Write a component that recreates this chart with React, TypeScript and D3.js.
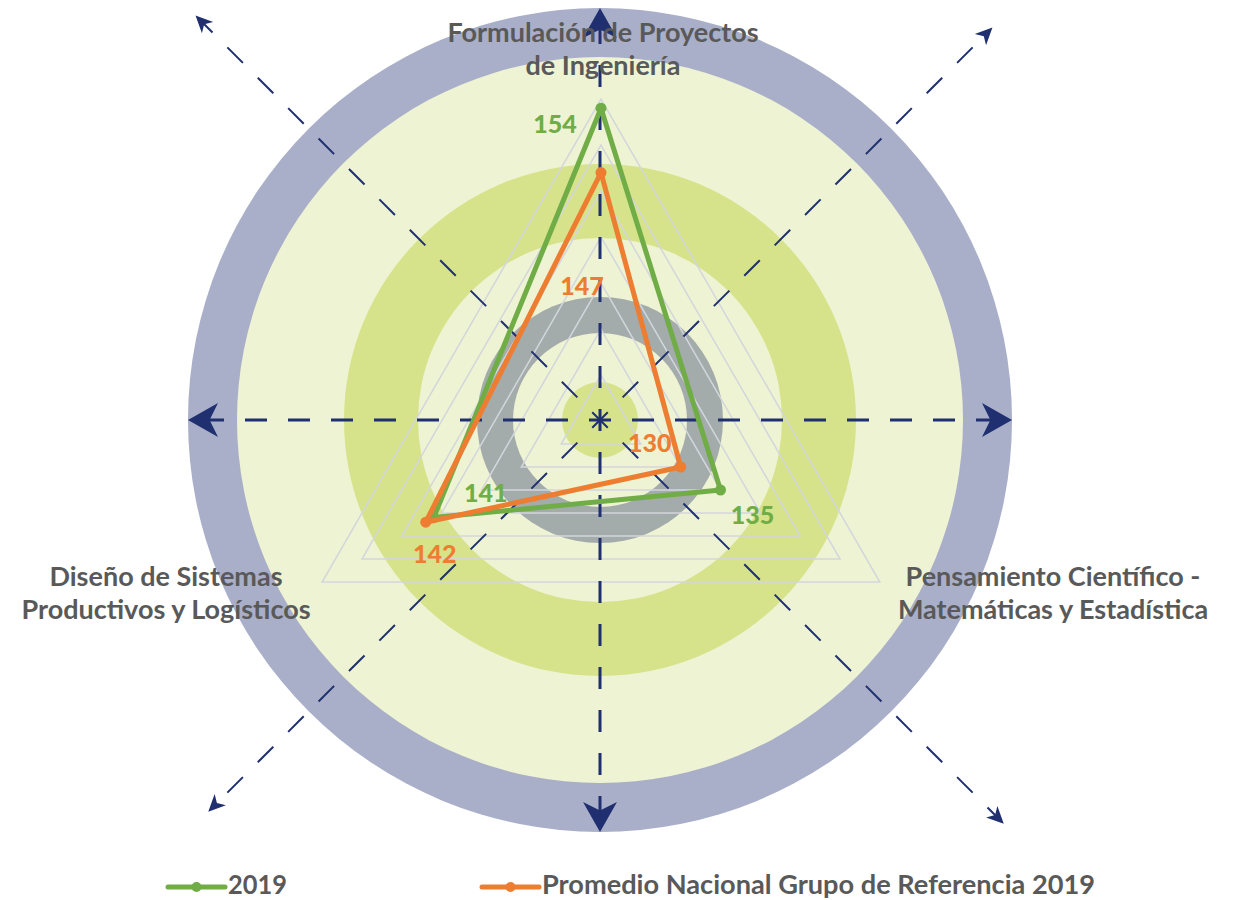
import { useEffect, useRef } from 'react';
import * as d3 from 'd3';

// chart data
const categories = [
  ['Formulación de Proyectos', 'de Ingeniería'],
  ['Pensamiento Científico -', 'Matemáticas y Estadística'],
  ['Diseño de Sistemas', 'Productivos y Logísticos'],
];
const seriesNames = ['2019', 'Promedio Nacional Grupo de Referencia 2019'];
const values2019 = [154, 135, 141];
const valuesPromedio = [147, 130, 142];
const gridTicks = [125, 130, 135, 140, 145, 150, 155];
const axisMin = 120;
const axisMax = 155;

const GREEN = '#70ad47';
const ORANGE = '#ed7d31';
const NAVY = '#1f2f6f';
const GRAY_TEXT = '#595959';

export default function App() {
  const ref = useRef<SVGSVGElement>(null);

  useEffect(() => {
    document.body.style.margin = '0';
    const svg = d3.select(ref.current);
    svg.selectAll('*').remove();

    const width = 1234;
    const height = 900;
    const bg = { x: 600, y: 420 };
    const c = { x: 601, y: 421 };

    // background rings
    const rings = [
      { r: 412, fill: '#a9afc9' },
      { r: 363, fill: '#eef3d3' },
      { r: 256, fill: '#d6e38a' },
      { r: 182, fill: '#eef3d3' },
      { r: 123, fill: '#a3abab' },
      { r: 87, fill: '#eef3d3' },
      { r: 38, fill: '#d6e38a' },
    ];
    svg.append('g')
      .selectAll('circle')
      .data(rings)
      .join('circle')
      .attr('cx', bg.x)
      .attr('cy', bg.y)
      .attr('r', d => d.r)
      .attr('fill', d => d.fill);

    const r = d3.scaleLinear().domain([axisMin, axisMax]).range([0, 322]);
    const angles = [-90, 30, 150].map(a => (a * Math.PI) / 180);
    const pt = (v: number, i: number): [number, number] => [
      c.x + r(v) * Math.cos(angles[i]),
      c.y + r(v) * Math.sin(angles[i]),
    ];

    // grid triangles
    svg.append('g')
      .selectAll('path')
      .data(gridTicks)
      .join('path')
      .attr('d', t => d3.line()([0, 1, 2].map(i => pt(t, i))) + 'Z')
      .attr('fill', 'none')
      .attr('stroke', '#d3d6dc')
      .attr('stroke-width', 1.5);

    // dashed axes with arrow heads
    const axes = svg.append('g');
    const arrow = (ang: number, len: number, sw: number, head: number, half: number) => {
      const dx = Math.cos(ang);
      const dy = Math.sin(ang);
      const tip = [bg.x + dx * len, bg.y + dy * len];
      axes.append('line')
        .attr('x1', bg.x)
        .attr('y1', bg.y)
        .attr('x2', bg.x + dx * (len - head * 0.6))
        .attr('y2', bg.y + dy * (len - head * 0.6))
        .attr('stroke', NAVY)
        .attr('stroke-width', sw)
        .attr('stroke-dasharray', '22 21')
        .attr('stroke-dashoffset', 11);
      const px = -dy;
      const py = dx;
      const back = [tip[0] - dx * head, tip[1] - dy * head];
      const notch = [tip[0] - dx * head * 0.72, tip[1] - dy * head * 0.72];
      axes.append('path')
        .attr('d', d3.line()([
          tip as [number, number],
          [back[0] + px * half, back[1] + py * half],
          notch as [number, number],
          [back[0] - px * half, back[1] - py * half],
        ]) + 'Z')
        .attr('fill', NAVY);
    };
    [0, 90, 180, 270].forEach(a => arrow((a * Math.PI) / 180, 412, 3, 30, 17));
    [
      { a: -135, len: 572 },
      { a: -45, len: 555 },
      { a: 45, len: 571 },
      { a: 135, len: 554 },
    ].forEach(d => arrow((d.a * Math.PI) / 180, d.len, 2, 17, 8));

    // series
    const series = [
      { name: seriesNames[0], values: values2019, color: GREEN },
      { name: seriesNames[1], values: valuesPromedio, color: ORANGE },
    ];
    const sg = svg.append('g');
    series.forEach(s => {
      const pts = s.values.map((v, i) => pt(v, i));
      sg.append('path')
        .attr('d', d3.line()(pts) + 'Z')
        .attr('fill', 'none')
        .attr('stroke', s.color)
        .attr('stroke-width', 5)
        .attr('stroke-linejoin', 'round');
      sg.selectAll(null)
        .data(pts)
        .join('circle')
        .attr('cx', d => d[0])
        .attr('cy', d => d[1])
        .attr('r', 5.5)
        .attr('fill', s.color);
    });

    // data labels (offsets from their points)
    const labelOffsets = [
      [[-46, 15], [32, 24], [52, -26]],
      [[-19, 112], [-31, -25], [9, 31]],
    ];
    series.forEach((s, si) => {
      s.values.forEach((v, i) => {
        const p = pt(v, i);
        svg.append('text')
          .attr('x', p[0] + labelOffsets[si][i][0])
          .attr('y', p[1] + labelOffsets[si][i][1])
          .attr('text-anchor', 'middle')
          .attr('dominant-baseline', 'central')
          .attr('font-family', 'Lato, sans-serif')
          .attr('font-weight', 900)
          .attr('font-size', 25)
          .attr('fill', s.color)
          .text(v);
      });
    });

    // category labels
    const catPos = [
      { x: 603, y: 42 },
      { x: 1053, y: 586 },
      { x: 166, y: 586 },
    ];
    categories.forEach((lines, i) => {
      const t = svg.append('text')
        .attr('text-anchor', 'middle')
        .attr('font-family', 'Lato, sans-serif')
        .attr('font-weight', 700)
        .attr('font-size', 27)
        .attr('fill', GRAY_TEXT);
      lines.forEach((ln, j) => {
        t.append('tspan')
          .attr('x', catPos[i].x)
          .attr('y', catPos[i].y + j * 33)
          .text(ln);
      });
    });

    // legend
    const legend = [
      { x: 168, textLen: 59, ...series[0] },
      { x: 482, textLen: 553, ...series[1] },
    ];
    const lg = svg.append('g');
    legend.forEach(l => {
      lg.append('line')
        .attr('x1', l.x).attr('x2', l.x + 57)
        .attr('y1', 887).attr('y2', 887)
        .attr('stroke', l.color)
        .attr('stroke-width', 5)
        .attr('stroke-linecap', 'round');
      lg.append('circle')
        .attr('cx', l.x + 28.5).attr('cy', 887).attr('r', 5)
        .attr('fill', l.color);
      lg.append('text')
        .attr('x', l.x + 60)
        .attr('y', 894)
        .attr('font-family', 'Lato, sans-serif')
        .attr('font-weight', 700)
        .attr('font-size', 26)
        .attr('fill', GRAY_TEXT)
        .attr('textLength', l.textLen)
        .attr('lengthAdjust', 'spacingAndGlyphs')
        .text(l.name);
    });

    svg.attr('width', width).attr('height', height);
  }, []);

  return <svg ref={ref} width={1234} height={900} style={{ display: 'block' }} />;
}
